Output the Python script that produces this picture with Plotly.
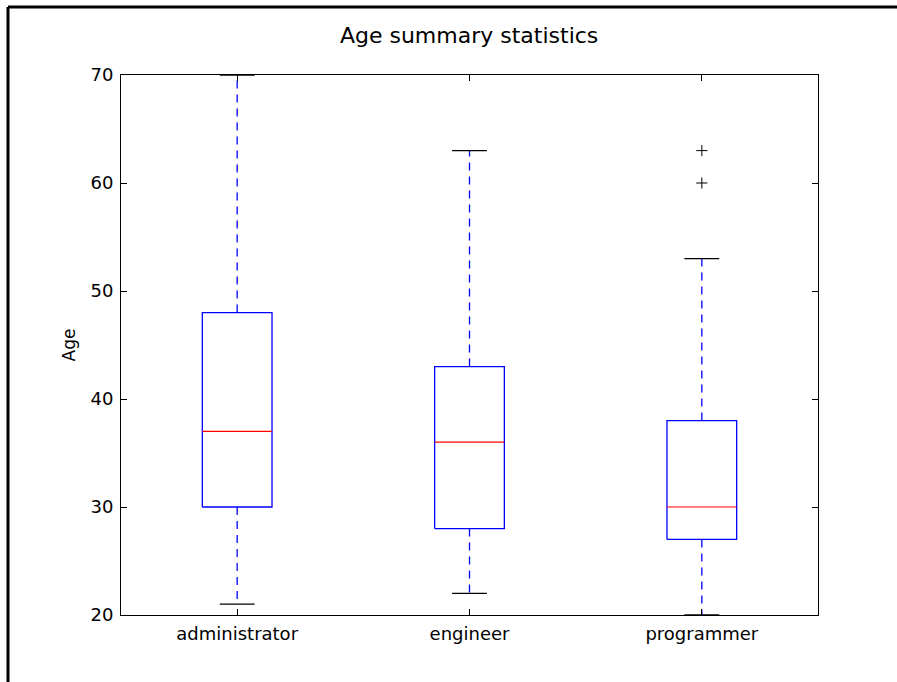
import plotly.graph_objects as go

categories = ["administrator", "engineer", "programmer"]
lower_whisker = [21, 22, 20]
q1 = [30, 28, 27]
median = [37, 36, 30]
q3 = [48, 43, 38]
upper_whisker = [70, 63, 53]
outlier_cat = ["programmer", "programmer"]
outlier_age = [60, 63]
y_ticks = [20, 30, 40, 50, 60, 70]

BOX_HALF = 0.15
CAP_HALF = 0.075
FONT = "DejaVu Sans"

fig = go.Figure()
pos = {c: i + 1 for i, c in enumerate(categories)}

for i, c in enumerate(categories):
    x = pos[c]
    # box
    fig.add_trace(go.Scatter(
        x=[x - BOX_HALF, x + BOX_HALF, x + BOX_HALF, x - BOX_HALF, x - BOX_HALF],
        y=[q1[i], q1[i], q3[i], q3[i], q1[i]],
        mode="lines", line=dict(color="#0000ff", width=1.3),
        hoverinfo="skip", showlegend=False))
    # whiskers
    for a, b in ((q3[i], upper_whisker[i]), (q1[i], lower_whisker[i])):
        fig.add_trace(go.Scatter(
            x=[x, x], y=[a, b], mode="lines",
            line=dict(color="#0000ff", width=1.3, dash="8px,6px"),
            hoverinfo="skip", showlegend=False))
    # caps
    for v in (upper_whisker[i], lower_whisker[i]):
        fig.add_trace(go.Scatter(
            x=[x - CAP_HALF, x + CAP_HALF], y=[v, v], mode="lines",
            line=dict(color="black", width=1.3),
            hoverinfo="skip", showlegend=False, cliponaxis=False))
    # median
    fig.add_trace(go.Scatter(
        x=[x - BOX_HALF, x + BOX_HALF], y=[median[i], median[i]], mode="lines",
        line=dict(color="#ff0000", width=1.2),
        hoverinfo="skip", showlegend=False))

fig.add_trace(go.Scatter(
    x=[pos[c] for c in outlier_cat], y=outlier_age, mode="markers",
    marker=dict(symbol="cross-thin", size=8, line=dict(color="black", width=1)),
    showlegend=False, cliponaxis=False))

axis_common = dict(
    showline=True, linecolor="black", linewidth=1, mirror="allticks",
    ticks="inside", ticklen=6, tickwidth=1, tickcolor="black",
    showgrid=False, zeroline=False,
    tickfont=dict(family=FONT, size=18, color="black"),
)

fig.update_xaxes(
    range=[0.5, 3.5], tickvals=[pos[c] for c in categories], ticktext=categories,
    ticklabelstandoff=2, **axis_common)
fig.update_yaxes(
    range=[20, 70], tickvals=y_ticks, ticklabelstandoff=3,
    title=dict(text="Age", font=dict(family=FONT, size=17, color="black"), standoff=10),
    **axis_common)

fig.update_layout(
    width=897, height=682,
    margin=dict(l=121, r=79, t=75, b=67),
    paper_bgcolor="white", plot_bgcolor="white",
    title=dict(text="Age summary statistics", x=0.523, xanchor="center",
               y=1 - 35 / 682, yanchor="middle",
               font=dict(family=FONT, size=22, color="black")),
    shapes=[
        dict(type="line", xref="paper", yref="paper",
             x0=(8 - 121) / 697, x1=(8 - 121) / 697, y0=(615 - 7) / 540, y1=(615 - 690) / 540,
             line=dict(color="black", width=3)),
        dict(type="line", xref="paper", yref="paper",
             x0=(8 - 121) / 697, x1=(900 - 121) / 697, y0=(615 - 7) / 540, y1=(615 - 7) / 540,
             line=dict(color="black", width=3)),
    ],
)

fig.write_html("out.html", config={"displayModeBar": False},
               post_script="document.body.style.margin='0';")
